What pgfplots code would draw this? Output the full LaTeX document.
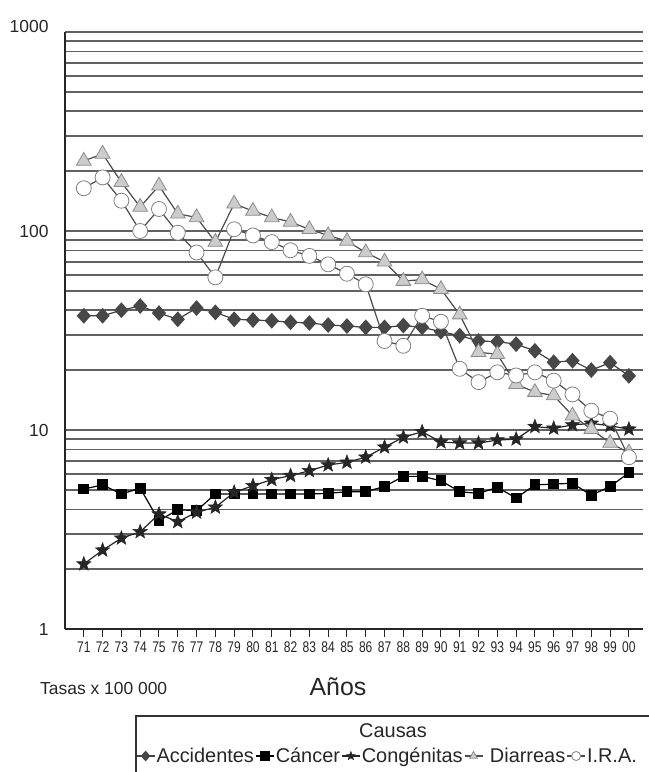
\documentclass[border=0pt]{standalone}
\usepackage{fontspec}
\setmainfont{Liberation Sans}
\newfontfamily\narrowfont[FakeStretch=0.78]{Liberation Sans}
\usepackage{pgfplots}
\pgfplotsset{compat=1.18}
\definecolor{gridc}{gray}{0.38}
\definecolor{linec}{gray}{0.25}
\definecolor{trif}{gray}{0.80}
\definecolor{trie}{gray}{0.55}
\definecolor{circe}{gray}{0.50}
\pgfdeclareplotmark{fstar}{%
  \pgfpathmoveto{\pgfqpointpolar{90}{\pgfplotmarksize}}%
  \pgfpathlineto{\pgfqpointpolar{126}{0.42\pgfplotmarksize}}%
  \pgfpathlineto{\pgfqpointpolar{162}{\pgfplotmarksize}}%
  \pgfpathlineto{\pgfqpointpolar{198}{0.42\pgfplotmarksize}}%
  \pgfpathlineto{\pgfqpointpolar{234}{\pgfplotmarksize}}%
  \pgfpathlineto{\pgfqpointpolar{270}{0.42\pgfplotmarksize}}%
  \pgfpathlineto{\pgfqpointpolar{306}{\pgfplotmarksize}}%
  \pgfpathlineto{\pgfqpointpolar{342}{0.42\pgfplotmarksize}}%
  \pgfpathlineto{\pgfqpointpolar{18}{\pgfplotmarksize}}%
  \pgfpathlineto{\pgfqpointpolar{54}{0.42\pgfplotmarksize}}%
  \pgfpathclose\pgfusepathqfillstroke}
\pgfdeclareplotmark{wdiamond}{%
  \pgfpathmoveto{\pgfqpoint{0pt}{\pgfplotmarksize}}%
  \pgfpathlineto{\pgfqpoint{0.9\pgfplotmarksize}{0pt}}%
  \pgfpathlineto{\pgfqpoint{0pt}{-\pgfplotmarksize}}%
  \pgfpathlineto{\pgfqpoint{-0.9\pgfplotmarksize}{0pt}}%
  \pgfpathclose\pgfusepathqfillstroke}
\pgfplotstableread{
x acc can con dia ira
71 37.5 5.05 2.12 225 164
72 37.5 5.3 2.49 244 186
73 40 4.77 2.86 176 142
74 42 5.1 3.08 132 100
75 38.7 3.5 3.78 169 129
76 36 3.98 3.46 122 98
77 41 3.93 3.86 117 78
78 39 4.77 4.09 88 58.5
79 36 4.77 4.86 137 102
80 35.7 4.77 5.25 126 95
81 35.4 4.77 5.63 117 88
82 34.8 4.77 5.9 111 80
83 34.5 4.77 6.24 102 75
84 33.7 4.8 6.67 95 68
85 33.3 4.9 6.88 89 61
86 32.8 4.9 7.3 78 54
87 32.8 5.2 8.2 70 28
88 33.5 5.85 9.2 56 26.5
89 32.8 5.85 9.8 57 37.5
90 31.2 5.56 8.7 51 35
91 29.8 4.9 8.6 38 20.3
92 28 4.8 8.6 24.6 17.4
93 27.8 5.15 8.9 24 19.5
94 27 4.55 9.0 17 18.8
95 25 5.3 10.4 15.5 19.5
96 21.9 5.35 10.2 14.9 17.7
97 22.3 5.4 10.6 11.8 15.1
98 20 4.7 10.8 10.1 12.5
99 21.8 5.2 10.5 8.6 11.4
100 18.7 6.1 10.1 7.7 7.3
}\datatable
\begin{document}
\begin{tikzpicture}[x=1bp,y=1bp]
\begin{axis}[
  at={(65bp,-629bp)}, anchor=south west,
  scale only axis, width=578bp, height=597bp,
  ymode=log, log basis y=10, ymin=1, ymax=1000,
  xmin=70, xmax=100.75,
  axis x line*=bottom, axis y line*=left,
  axis line style={line width=1.3bp, black!85, -},
  tick align=outside,
  xtick={71,...,100},
  xticklabels={71,72,73,74,75,76,77,78,79,80,81,82,83,84,85,86,87,88,89,90,91,92,93,94,95,96,97,98,99,00},
  ytick={1,10,100,1000},
  yticklabels={1,10,100,\raisebox{11bp}{1000}},
  minor ytick={2,3,4,5,6,7,8,9,20,30,40,50,60,70,80,90,200,300,400,500,600,700,800,900},
  ymajorgrids, yminorgrids,
  major grid style={line width=1.4bp, gridc},
  minor grid style={line width=1.4bp, gridc},
  major tick length=8bp, minor tick length=0pt,
  ytick style={draw=none},
  xtick style={line width=1bp, black!85},
  xticklabel style={font=\narrowfont\fontsize{15.5}{15.5}\selectfont, color=black!85, yshift=-1bp},
  yticklabel style={font=\fontsize{17.5}{17.5}\selectfont, color=black!85, xshift=-5bp},
  legend columns=5,
  legend style={at={(0.1225,-0.2127)}, anchor=west, draw=none, fill=none,
    font=\fontsize{20}{21}\selectfont, text=black!85, inner sep=0pt,
    nodes={inner sep=1.3bp}, column sep=0bp},
  legend image code/.code={\draw[mark repeat=2,mark phase=2,#1,mark size=4.5bp] plot coordinates {(0bp,0bp) (9bp,0bp) (18bp,0bp)};},
]
\addplot[linec, line width=1.2bp, mark=wdiamond, mark size=7bp, mark options={fill=black!72, draw=black!72}] table[x=x, y=acc] {\datatable};
\addlegendentry{Accidentes}
\addplot[black, line width=1.2bp, mark=square*, mark size=4.8bp, mark options={fill=black, draw=black}] table[x=x, y=can] {\datatable};
\addlegendentry{Cáncer}
\addplot[black!85, line width=1.2bp, mark=fstar, mark size=7.5bp, mark options={fill=black!85, draw=black!85, line width=0.5bp}] table[x=x, y=con] {\datatable};
\addlegendentry{Congénitas}
\addplot[black!70, line width=1.2bp, mark=triangle*, mark size=8.5bp, mark options={fill=trif, draw=trie, line width=0.8bp}] table[x=x, y=dia] {\datatable};
\addlegendentry{\ Diarreas}
\addplot[black!70, line width=1.2bp, mark=*, mark size=7.5bp, mark options={fill=white, draw=circe, line width=0.8bp}] table[x=x, y=ira] {\datatable};
\addlegendentry{I.R.A.}
\end{axis}
\node[anchor=west, font=\fontsize{17.5}{18}\selectfont, text=black!85, inner sep=0pt] at (40bp,-688bp) {Tasas x 100 000};
\node[font=\fontsize{25}{26}\selectfont, text=black!85, inner sep=0pt] at (338bp,-687bp) {Años};
\draw[line width=1.2bp, black!80] (136bp,-716bp) rectangle (720bp,-820bp);
\node[font=\fontsize{20}{21}\selectfont, text=black!85, inner sep=0pt] at (393bp,-731bp) {Causas};
\pgfresetboundingbox
\path[use as bounding box] (0bp,0bp) rectangle (649bp,-772bp);
\end{tikzpicture}
\end{document}
